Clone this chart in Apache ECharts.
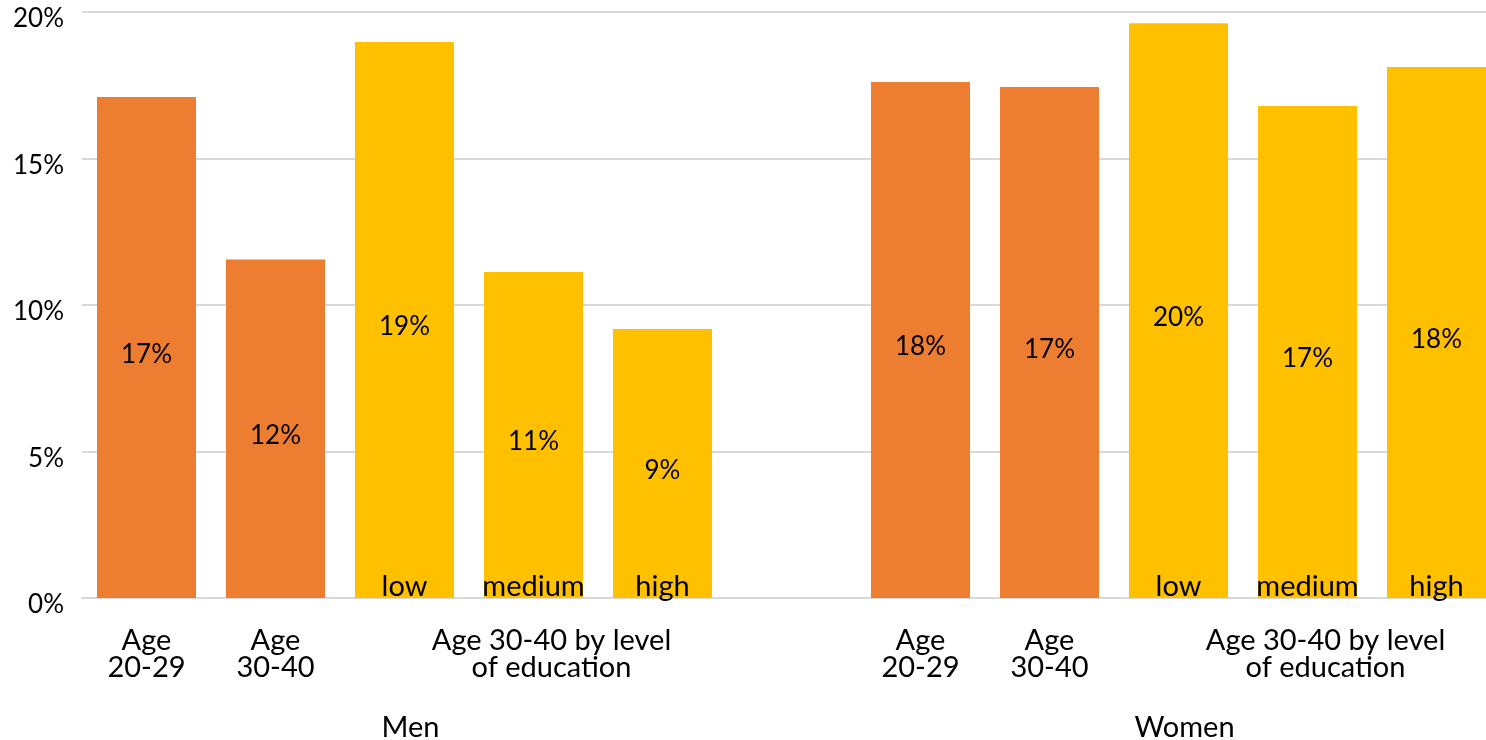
<!DOCTYPE html>
<html>
<head>
<meta charset="utf-8">
<script src="https://cdn.jsdelivr.net/npm/echarts@6/dist/echarts.min.js"></script>
<style>
  html, body { margin: 0; padding: 0; background: #fff; }
  #main { width: 1486px; height: 740px; }
</style>
</head>
<body>
<div id="main"></div>
<script>
// categories (one empty slot between the two groups)
var categories = ['Men 20-29', 'Men 30-40', 'Men low', 'Men medium', 'Men high', '',
                  'Women 20-29', 'Women 30-40', 'Women low', 'Women medium', 'Women high'];
var ageLabels = ['Age\n20-29', 'Age\n30-40', '', 'Age 30-40 by level\nof education', '', '',
                 'Age\n20-29', 'Age\n30-40', '', 'Age 30-40 by level\nof education', ''];
var eduLabels = ['', '', 'low', 'medium', 'high', '', '', '', 'low', 'medium', 'high'];
var sexLabels = ['', '', 'Men', '', '', '', '', '', 'Women', '', ''];
var values = [17.1, 11.55, 18.98, 11.13, 9.18, null, 17.61, 17.44, 19.62, 16.79, 18.12];
var barColors = ['#ED7D31', '#ED7D31', '#FFC000', '#FFC000', '#FFC000', '#FFC000',
                 '#ED7D31', '#ED7D31', '#FFC000', '#FFC000', '#FFC000'];
var yTicks = [0, 5, 10, 15, 20];

var FONT = 'Lato';
var TEXT_SIZE = 29;
var NUM_SIZE = 26;

// the multi-level "by level of education" label sits a bit right of its middle bar
var axisData = categories.map(function (c, i) {
    if (ageLabels[i].indexOf('level') >= 0) {
        return { value: c, textStyle: { padding: [0, 0, 0, 36] } };
    }
    return c;
});

var myChart = echarts.init(document.getElementById('main'));
var option = {
    backgroundColor: '#fff',
    animation: false,
    textStyle: { fontFamily: FONT },
    grid: { left: 82, right: -15, top: 12, bottom: 142, outerBoundsMode: 'none' },
    xAxis: [
        {
            type: 'category',
            data: axisData,
            axisLine: { show: true, lineStyle: { color: '#D9D9D9', width: 2 } },
            axisTick: { show: false },
            axisLabel: {
                interval: 0,
                margin: 29,
                color: '#000',
                fontSize: TEXT_SIZE,
                lineHeight: 27,
                fontFamily: FONT,
                formatter: function (v, i) { return ageLabels[i]; }
            }
        },
        {
            type: 'category',
            data: categories,
            position: 'bottom',
            offset: 107,
            axisLine: { show: false },
            axisTick: { show: false },
            axisLabel: {
                interval: 0,
                color: '#000',
                fontSize: TEXT_SIZE,
                fontFamily: FONT,
                padding: [0, 0, 0, 12],
                formatter: function (v, i) { return sexLabels[i]; }
            }
        }
    ],
    yAxis: {
        type: 'value',
        min: yTicks[0],
        max: yTicks[yTicks.length - 1],
        interval: 5,
        axisLine: { show: false },
        axisTick: { show: false },
        splitLine: { lineStyle: { color: '#D9D9D9', width: 2 } },
        axisLabel: {
            margin: 18,
            color: '#000',
            fontSize: NUM_SIZE,
            fontFamily: FONT,
            formatter: function (v) { return '{t|' + v + '%}'; },
            rich: {
                // Excel draws these slightly below the gridline
                t: { fontSize: NUM_SIZE, fontFamily: FONT, color: '#000', padding: [14, 0, 0, 0] }
            }
        }
    },
    series: [
        {
            type: 'bar',
            barWidth: 99,
            data: values.map(function (v, i) {
                return { value: v, itemStyle: { color: barColors[i] } };
            }),
            label: {
                show: true,
                position: 'inside',
                offset: [0, 7],
                color: '#000',
                fontSize: NUM_SIZE,
                fontFamily: FONT,
                formatter: function (p) { return Math.round(p.value) + '%'; }
            }
        },
        {
            // overlay carrying the education level names at bar bottoms
            type: 'bar',
            barWidth: 99,
            barGap: '-100%',
            silent: true,
            itemStyle: { color: 'rgba(0,0,0,0)' },
            data: values,
            label: {
                show: true,
                position: 'insideBottom',
                distance: -3,
                color: '#000',
                fontSize: TEXT_SIZE,
                fontFamily: FONT,
                formatter: function (p) { return eduLabels[p.dataIndex]; }
            }
        }
    ]
};
myChart.setOption(option);
</script>
</body>
</html>
